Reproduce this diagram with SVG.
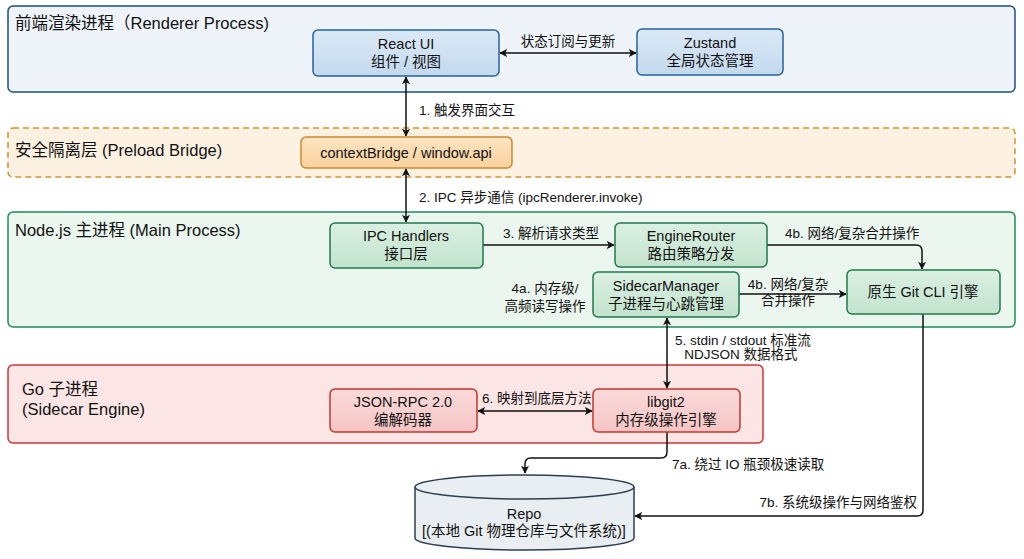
<svg xmlns="http://www.w3.org/2000/svg" width="1024" height="559" viewBox="0 0 1024 559">
<defs>
<marker id="ah" viewBox="0 0 10 10" refX="9" refY="5" markerWidth="8" markerHeight="8" markerUnits="userSpaceOnUse" orient="auto-start-reverse">
<path d="M0,0 L10,5 L0,10 L2.5,5 Z" fill="#111"/>
</marker>
<linearGradient id="gBlue" x1="0" y1="0" x2="0" y2="1"><stop offset="0" stop-color="#dbe9f6"/><stop offset="1" stop-color="#c3d9ee"/></linearGradient>
<linearGradient id="gOrange" x1="0" y1="0" x2="0" y2="1"><stop offset="0" stop-color="#fde5c3"/><stop offset="1" stop-color="#f9d19c"/></linearGradient>
<linearGradient id="gGreen" x1="0" y1="0" x2="0" y2="1"><stop offset="0" stop-color="#dbf0e2"/><stop offset="1" stop-color="#c2e3cd"/></linearGradient>
<linearGradient id="gRed" x1="0" y1="0" x2="0" y2="1"><stop offset="0" stop-color="#fbdada"/><stop offset="1" stop-color="#f5c4c4"/></linearGradient>
</defs>
<style>
text{font-family:"Liberation Sans","Noto Sans CJK SC",sans-serif;fill:#111}
.title{font-size:16.5px}
.node{font-size:14.5px;text-anchor:middle}
.lbl{font-size:13.5px}
.c{text-anchor:middle}
.edge{fill:none;stroke:#111;stroke-width:1.5}
</style>
<rect width="1024" height="559" fill="#ffffff"/>

<g id="renderer">
<rect x="8" y="6" width="1007" height="86" rx="5" fill="#eef4fa" stroke="#1d4f7c" stroke-width="1.5"/>
<text class="title" x="15" y="29">前端渲染进程（Renderer Process)</text>
</g>
<g id="preload">
<rect x="8" y="128" width="1007" height="49" rx="5" fill="#fdf1e1" stroke="#d4922f" stroke-width="1.5" stroke-dasharray="6,4"/>
<text class="title" x="15" y="156">安全隔离层 (Preload Bridge)</text>
</g>
<g id="main">
<rect x="8" y="212" width="1007" height="115" rx="5" fill="#ebf6ef" stroke="#1f8a5a" stroke-width="1.5"/>
<text class="title" x="15" y="236">Node.js 主进程 (Main Process)</text>
</g>
<g id="go">
<rect x="8" y="365" width="755" height="78" rx="5" fill="#fbe5e5" stroke="#c9383a" stroke-width="1.5"/>
<text class="title" x="22" y="395">Go 子进程</text>
<text class="title" x="22" y="415">(Sidecar Engine)</text>
</g>

<g id="connectors">
<path class="edge" d="M500,53 L636,53" marker-start="url(#ah)" marker-end="url(#ah)"/>
<text class="lbl c" x="568" y="46">状态订阅与更新</text>
<path class="edge" d="M406,77 L406,136" marker-start="url(#ah)" marker-end="url(#ah)"/>
<text class="lbl" x="419" y="115">1. 触发界面交互</text>
<path class="edge" d="M406,169 L406,222" marker-start="url(#ah)" marker-end="url(#ah)"/>
<text class="lbl" x="419" y="202">2. IPC 异步通信 (ipcRenderer.invoke)</text>
<path class="edge" d="M483,245 L614,245" marker-end="url(#ah)"/>
<text class="lbl" x="503" y="238">3. 解析请求类型</text>
<path class="edge" d="M767,245 L916,245 Q922,245 922,251 L922,269" marker-end="url(#ah)"/>
<text class="lbl" x="785" y="238">4b. 网络/复杂合并操作</text>
<path class="edge" d="M739,294 L846,294" marker-end="url(#ah)"/>
<text class="lbl c" x="788" y="289">4b. 网络/复杂</text>
<text class="lbl c" x="788" y="305">合并操作</text>
<text class="lbl c" x="545" y="293">4a. 内存级/</text>
<text class="lbl c" x="545" y="311">高频读写操作</text>
<path class="edge" d="M667,318 L667,388" marker-start="url(#ah)" marker-end="url(#ah)"/>
<text class="lbl" x="675" y="345">5. stdin / stdout 标准流</text>
<text class="lbl c" x="741" y="359">NDJSON 数据格式</text>
<path class="edge" d="M478,411 L592,411" marker-start="url(#ah)" marker-end="url(#ah)"/>
<text class="lbl" x="482" y="403">6. 映射到底层方法</text>
<path class="edge" d="M667,432 L667,452 Q667,458 661,458 L531,458 Q525,458 525,464 L525,473" marker-end="url(#ah)"/>
<text class="lbl" x="672" y="469">7a. 绕过 IO 瓶颈极速读取</text>
<path class="edge" d="M923,314 L923,510 Q923,516 917,516 L635,516" marker-end="url(#ah)"/>
<text class="lbl" x="917" y="507" text-anchor="end">7b. 系统级操作与网络鉴权</text>
</g>

<g id="react-ui">
<rect x="313" y="30" width="186" height="46" rx="5" fill="url(#gBlue)" stroke="#23639b" stroke-width="1.5"/>
<text class="node" x="406" y="49">React UI</text>
<text class="node" x="406" y="67">组件 / 视图</text>
</g>
<g id="zustand">
<rect x="637" y="29" width="146" height="46" rx="5" fill="url(#gBlue)" stroke="#23639b" stroke-width="1.5"/>
<text class="node" x="710" y="48">Zustand</text>
<text class="node" x="710" y="66">全局状态管理</text>
</g>
<g id="context-bridge">
<rect x="301" y="137" width="211" height="31" rx="5" fill="url(#gOrange)" stroke="#cc8a2e" stroke-width="1.5"/>
<text class="node" x="406" y="158">contextBridge / window.api</text>
</g>
<g id="ipc-handlers">
<rect x="330" y="223" width="153" height="45" rx="5" fill="url(#gGreen)" stroke="#217a4e" stroke-width="1.5"/>
<text class="node" x="406" y="241">IPC Handlers</text>
<text class="node" x="406" y="259">接口层</text>
</g>
<g id="engine-router">
<rect x="615" y="223" width="152" height="44" rx="5" fill="url(#gGreen)" stroke="#217a4e" stroke-width="1.5"/>
<text class="node" x="691" y="241">EngineRouter</text>
<text class="node" x="691" y="259">路由策略分发</text>
</g>
<g id="sidecar-manager">
<rect x="593" y="272" width="146" height="45" rx="5" fill="url(#gGreen)" stroke="#217a4e" stroke-width="1.5"/>
<text class="node" x="666" y="291">SidecarManager</text>
<text class="node" x="666" y="309">子进程与心跳管理</text>
</g>
<g id="git-cli">
<rect x="847" y="270" width="153" height="44" rx="5" fill="url(#gGreen)" stroke="#217a4e" stroke-width="1.5"/>
<text class="node" x="923" y="297">原生 Git CLI 引擎</text>
</g>
<g id="json-rpc">
<rect x="330" y="389" width="147" height="43" rx="5" fill="url(#gRed)" stroke="#c0392b" stroke-width="1.5"/>
<text class="node" x="403" y="407">JSON-RPC 2.0</text>
<text class="node" x="403" y="425">编解码器</text>
</g>
<g id="libgit2">
<rect x="593" y="389" width="147" height="43" rx="5" fill="url(#gRed)" stroke="#c0392b" stroke-width="1.5"/>
<text class="node" x="666" y="407">libgit2</text>
<text class="node" x="666" y="425">内存级操作引擎</text>
</g>
<g id="repo">
<path d="M415,487 L415,538 A109.5,12 0 0 0 634,538 L634,487" fill="#e9eef2" stroke="#2c3e50" stroke-width="1.5"/>
<ellipse cx="524.5" cy="487" rx="109.5" ry="12" fill="#e9eef2" stroke="#2c3e50" stroke-width="1.5"/>
<text class="node" x="524" y="519">Repo</text>
<text class="node" x="524" y="536">[(本地 Git 物理仓库与文件系统)]</text>
</g>
</svg>
